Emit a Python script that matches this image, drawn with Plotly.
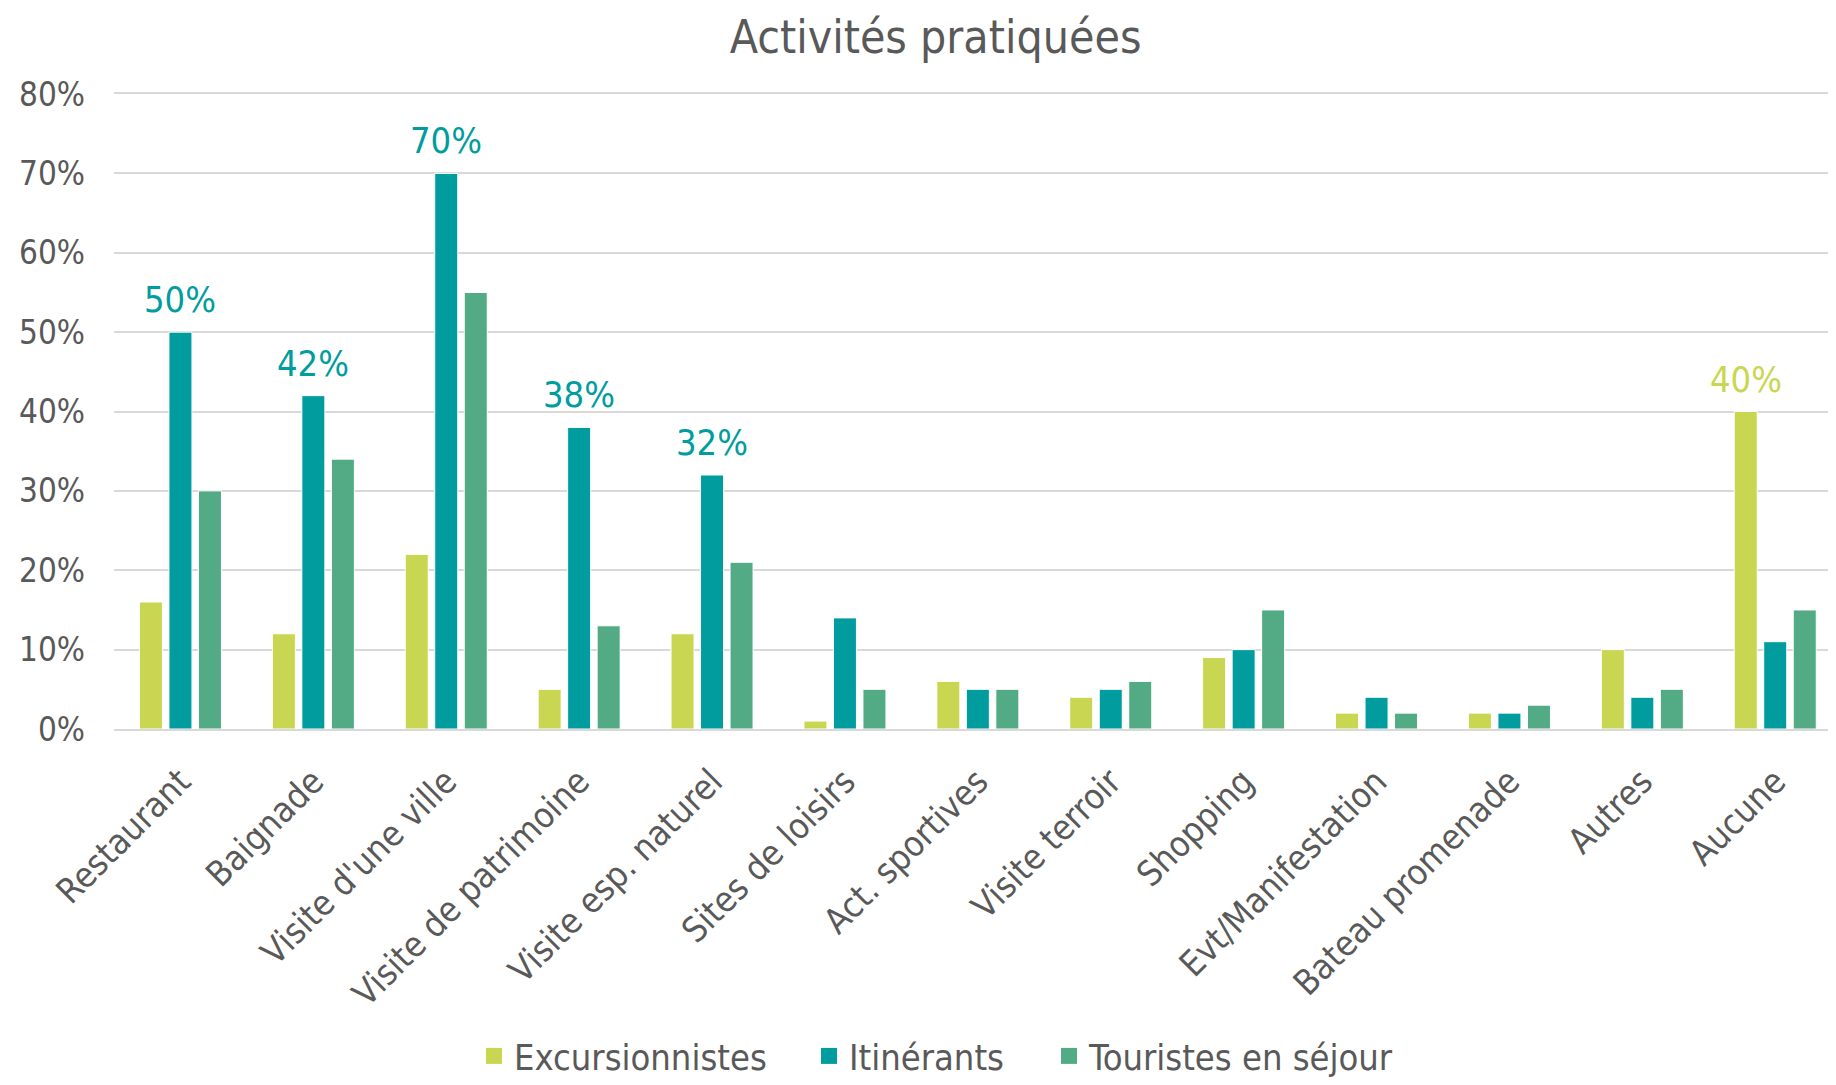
import plotly.graph_objects as go

categories = ["Restaurant", "Baignade", "Visite d'une ville", "Visite de patrimoine",
              "Visite esp. naturel", "Sites de loisirs", "Act. sportives", "Visite terroir",
              "Shopping", "Evt/Manifestation", "Bateau promenade", "Autres", "Aucune"]
excursionnistes = [16, 12, 22, 5, 12, 1, 6, 4, 9, 2, 2, 10, 40]
itinerants = [50, 42, 70, 38, 32, 14, 5, 5, 10, 4, 2, 4, 11]
touristes = [30, 34, 55, 13, 21, 5, 5, 6, 15, 2, 3, 5, 15]
exc_labels = ["", "", "", "", "", "", "", "", "", "", "", "", "40%"]
iti_labels = ["50%", "42%", "70%", "38%", "32%", "", "", "", "", "", "", "", ""]
tou_labels = [""] * 13
series_names = ["Excursionnistes", "Itinérants", "Touristes en séjour"]

FONT = "DejaVu Sans Condensed, DejaVu Sans, sans-serif"
GREY = "#595959"
C_EXC = "#C9D651"
C_ITI = "#009C9E"
C_TOU = "#52AB84"

W, H = 1820, 1069
ML = 106
XRANGE = [-0.5, 12.397]
BARGAP = 0.334

fig = go.Figure()
series = [(series_names[0], excursionnistes, C_EXC, exc_labels),
          (series_names[1], itinerants, C_ITI, iti_labels),
          (series_names[2], touristes, C_TOU, tou_labels)]
for name, vals, col, labels in series:
    fig.add_trace(go.Bar(
        name=name, x=categories, y=vals, showlegend=False,
        marker=dict(color=col, line=dict(color="white", width=1)),
    ))

# data labels above selected bars (offset of each series within its group)
cat_px = (W - ML) / (XRANGE[1] - XRANGE[0])
slot_px = cat_px * (1 - BARGAP) / 3
for si, (name, vals, col, labels) in enumerate(series):
    for cat, v, lab in zip(categories, vals, labels):
        if lab:
            fig.add_annotation(x=cat, y=v, text=lab, showarrow=False, yanchor="bottom",
                               xanchor="center", yshift=10, xshift=(si - 1) * slot_px,
                               font=dict(family=FONT, size=36, color=col))

# legend entries (separate legends for Excel-like spacing)
legend_x = [474, 809, 1049]  # page px of legend boxes
legend_ids = ["legend", "legend2", "legend3"]
for (name, vals, col, labels), lx, lid in zip(series, legend_x, legend_ids):
    fig.add_trace(go.Scatter(
        name=name, x=[None], y=[None], mode="markers",
        marker=dict(symbol="square", size=20, color=col),
        showlegend=True, legend=lid,
    ))

legend_common = dict(orientation="h", xref="container", yref="container", y=21 / H,
                     yanchor="middle", xanchor="left", bgcolor="rgba(0,0,0,0)",
                     font=dict(family=FONT, size=36, color=GREY), itemwidth=30)

fig.update_layout(
    width=W, height=H,
    paper_bgcolor="white", plot_bgcolor="white",
    barmode="group", bargap=BARGAP, bargroupgap=0.22,
    margin=dict(l=ML, r=0, t=86, b=348),
    title=dict(text="Activités pratiquées", x=927.6 / W, xanchor="center", y=1 - 29 / H, yanchor="middle",
               font=dict(family=FONT, size=46, color=GREY)),
    font=dict(family=FONT, color=GREY),
    showlegend=True,
    legend=dict(x=(legend_x[0] - 8) / W, **legend_common),
    legend2=dict(x=(legend_x[1] - 8) / W, **legend_common),
    legend3=dict(x=(legend_x[2] - 8) / W, **legend_common),
)
fig.update_xaxes(range=XRANGE, tickangle=-45, tickfont=dict(family=FONT, size=35, color=GREY),
                 showline=True, mirror=True, linecolor="#D9D9D9", linewidth=2, showgrid=False, ticks="",
                 ticklabelstandoff=16)
fig.update_yaxes(range=[0, 80], dtick=10, ticksuffix="%", showgrid=True, gridcolor="#D9D9D9", gridwidth=2,
                 tickfont=dict(family=FONT, size=33, color=GREY), zeroline=False, ticks="",
                 ticklabelstandoff=28)

fig.write_html("out.html")
